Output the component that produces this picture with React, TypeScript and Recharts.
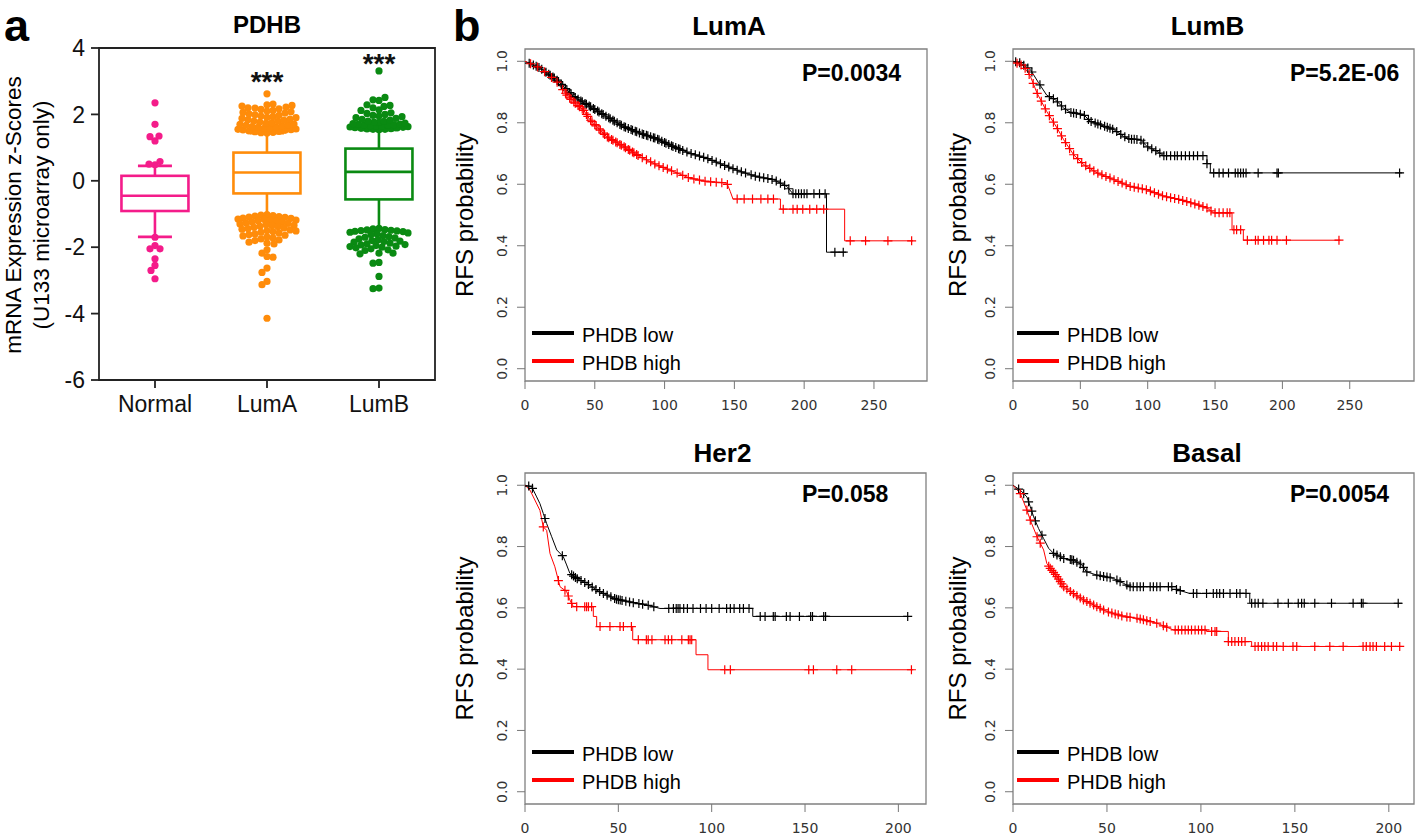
import React from 'react';
import { ComposedChart, Bar, Scatter, Line, XAxis, YAxis, ReferenceArea, Legend } from 'recharts';

const SANS = '"Liberation Sans", Arial, Helvetica, sans-serif';
const TICK_FONT = '"DejaVu Sans", "Liberation Sans", sans-serif';

// ---------------- Panel a: box plot data ----------------
const boxCategories = ['Normal', 'LumA', 'LumB'];
const boxColors = ['#f41c8a', '#ff8c0a', '#0a8a12'];
const whiskerLow = [-1.69, -1.08, -1.49];
const quartile1 = [-0.91, -0.38, -0.56];
const medians = [-0.45, 0.25, 0.27];
const quartile3 = [0.15, 0.85, 0.97];
const whiskerHigh = [0.45, 1.43, 1.53];
const boxYTicks = [-6, -4, -2, 0, 2, 4];

const normalOutliers = [2.35, 1.7, 1.33, 1.35, 1.2, 0.58, 0.5, 0.48, -1.7, -1.95, -2.05, -2.05, -2.35, -2.55, -2.7, -2.95];
const lumAOutliers = [
  2.62,
  2.31, 2.29, 2.27, 2.25,
  2.22, 2.2, 2.19, 2.17, 2.15,
  2.12, 2.1, 2.08, 2.06, 2.04, 2.02,
  1.99, 1.97, 1.95, 1.93, 1.91, 1.9,
  1.88, 1.86, 1.84, 1.82, 1.8, 1.79,
  1.77, 1.75, 1.73, 1.71, 1.7, 1.69,
  1.67, 1.65, 1.63, 1.62, 1.61, 1.6,
  1.58, 1.56, 1.55, 1.54, 1.53, 1.52,
  1.5, 1.49, 1.48, 1.46, 1.45, 1.44,
  -1.02, -1.03, -1.05, -1.06, -1.08, -1.09, -1.1,
  -1.12, -1.13, -1.15, -1.16, -1.18, -1.19, -1.2,
  -1.22, -1.24, -1.25, -1.27, -1.28, -1.3,
  -1.32, -1.34, -1.35, -1.37, -1.38, -1.4,
  -1.42, -1.44, -1.46, -1.48, -1.5, -1.51,
  -1.53, -1.55, -1.57, -1.6, -1.62,
  -1.64, -1.66, -1.69, -1.72,
  -1.75, -1.78, -1.8, -1.85, -1.88, -1.9,
  -2.08, -2.18, -2.28, -2.3, -2.63, -2.76, -3.03, -3.13, -4.14,
];
const lumBOutliers = [
  3.31, 2.51, 2.44, 2.42, 2.29, 2.27, 2.24, 2.2, 2.14, 2.12, 2.05, 2.03, 2.0, 1.97, 1.95, 1.93, 1.9, 1.88,
  1.85, 1.83, 1.8, 1.79, 1.77, 1.76, 1.74, 1.72, 1.71, 1.7, 1.69, 1.68, 1.67, 1.66, 1.65, 1.64, 1.63, 1.62, 1.61,
  1.6, 1.59, 1.58, 1.57, 1.56, 1.55, 1.55, 1.54,
  -1.43, -1.45, -1.47, -1.48, -1.49, -1.5, -1.51, -1.52, -1.53, -1.55, -1.57, -1.6, -1.62, -1.65, -1.68, -1.7,
  -1.72, -1.75, -1.78, -1.8, -1.82, -1.83, -1.85, -1.88, -1.9, -1.92, -1.93, -1.95, -1.97, -1.98, -2.0, -2.02,
  -2.05, -2.08, -2.1, -2.18, -2.18, -2.2, -2.46, -2.48, -2.88, -3.23, -3.25,
];
const significanceText = ['', '***', '***'];
const significanceY = [0, 3.2, 3.72];

// ---------------- Panel b: Kaplan-Meier data ----------------
const kmTitles = ['LumA', 'LumB', 'Her2', 'Basal'];
const kmPValues = ['P=0.0034', 'P=5.2E-06', 'P=0.058', 'P=0.0054'];
const legendLabels = ['PHDB low', 'PHDB high'];
const kmYTicks = [0, 0.2, 0.4, 0.6, 0.8, 1.0];
const xTicksTop = [0, 50, 100, 150, 200, 250];
const xTicksBottom = [0, 50, 100, 150, 200];

const lumALow = [[0, 1], [5, 0.99], [10.8, 0.978], [22.7, 0.94], [34.6, 0.886], [46.6, 0.853], [58.5, 0.82], [70.5, 0.788], [82.4, 0.766], [94.4, 0.748], [106, 0.723], [118, 0.701], [130, 0.685], [142, 0.663], [154, 0.642], [166, 0.625], [178, 0.615], [187.6, 0.593], [192, 0.569], [216, 0.569], [216, 0.379], [230, 0.379]];
const lumAHigh = [[0, 1], [5, 0.99], [10.8, 0.978], [22.7, 0.934], [30, 0.89], [34.6, 0.869], [41.8, 0.842], [46.6, 0.81], [58.5, 0.755], [70.5, 0.723], [82.4, 0.69], [94.4, 0.663], [106, 0.642], [118, 0.62], [130, 0.609], [144.6, 0.604], [147, 0.577], [149, 0.552], [183, 0.552], [183, 0.519], [229, 0.519], [229, 0.416], [278, 0.416]];
const lumALowCensor = [3, 6, 8, 10, 12, 15, 17, 18, 20, 21, 23, 24, 26, 27, 29, 30, 32, 33, 35, 36, 38, 40, 41, 43, 44, 46, 47, 49, 50, 52, 53, 55, 56, 58, 60, 61, 63, 64, 66, 68, 69, 71, 72, 74, 76, 77, 79, 80, 82, 84, 85, 87, 88, 90, 92, 93, 95, 96, 98, 100, 101, 103, 105, 106, 108, 110, 111, 113, 116, 119, 122, 125, 128, 131, 134, 137, 140, 143, 146, 149, 152, 155, 158, 162, 165, 168, 171, 174, 177, 180, 183, 186, 189, 192, 194, 196, 198, 200, 202, 207, 211, 215, 222, 228];
const lumAHighCensor = [4, 9, 14, 19, 23, 27, 29, 30, 32, 33, 35, 36, 38, 39, 41, 42, 44, 45, 47, 48, 50, 51, 53, 54, 56, 57, 59, 60, 62, 63, 65, 66, 68, 69, 71, 72, 74, 75, 77, 78, 80, 81, 84, 87, 90, 93, 96, 99, 102, 105, 109, 113, 117, 121, 125, 129, 133, 137, 141, 145, 152, 157, 163, 169, 174, 178, 185, 192, 195, 199, 204, 209, 214, 233, 244, 260, 277];

const lumBLow = [[0, 1], [5.4, 0.995], [12.9, 0.973], [19, 0.93], [25, 0.89], [31.4, 0.875], [37.6, 0.848], [42.6, 0.834], [52.5, 0.826], [57.4, 0.805], [67, 0.79], [74.8, 0.778], [82, 0.756], [87, 0.747], [94.6, 0.745], [99.5, 0.723], [107, 0.707], [112, 0.693], [144, 0.693], [144, 0.667], [146.5, 0.667], [146.5, 0.637], [289, 0.637]];
const lumBHigh = [[0, 1], [8, 0.984], [12.9, 0.951], [17.8, 0.897], [25, 0.837], [32.7, 0.783], [37.6, 0.745], [45, 0.696], [52.5, 0.664], [62.4, 0.637], [74.8, 0.615], [87, 0.593], [99.5, 0.582], [112, 0.561], [124, 0.55], [136.6, 0.534], [144, 0.523], [149, 0.507], [162.6, 0.507], [162.6, 0.452], [171, 0.452], [171, 0.418], [243, 0.418]];
const lumBLowCensor = [2, 5, 8, 11, 14, 20, 27, 30, 33, 36, 39, 43, 45, 47, 50, 53, 56, 58, 61, 63, 65, 68, 70, 72, 74, 77, 80, 83, 86, 88, 90, 92, 95, 97, 100, 103, 106, 109, 112, 114, 117, 120, 122, 125, 128, 131, 134, 137, 141, 144, 149, 153, 156, 160, 165, 167, 169, 171, 173, 182, 196, 197, 287];
const lumBHighCensor = [3, 6, 9, 12, 15, 18, 21, 24, 27, 30, 33, 36, 39, 42, 45, 48, 51, 54, 57, 60, 63, 66, 69, 72, 75, 78, 81, 84, 87, 90, 93, 96, 99, 102, 105, 108, 111, 114, 117, 120, 123, 126, 129, 132, 135, 138, 141, 144, 147, 150, 153, 156, 159, 161, 164, 166, 169, 174, 180, 182, 186, 190, 192, 196, 203, 242];

const her2Low = [[0, 1], [3.6, 0.995], [6.25, 0.962], [8, 0.94], [9.8, 0.908], [11.6, 0.875], [14.3, 0.832], [17, 0.789], [20.5, 0.767], [22.3, 0.74], [24, 0.713], [27.7, 0.696], [33, 0.68], [38.4, 0.658], [43.75, 0.642], [49, 0.628], [58, 0.617], [65, 0.61], [72.3, 0.598], [122, 0.598], [122, 0.572], [205, 0.572]];
const her2High = [[0, 1], [2.7, 0.984], [8, 0.918], [9.8, 0.864], [11.6, 0.853], [13.4, 0.777], [16, 0.734], [18.75, 0.669], [22.3, 0.653], [24, 0.626], [25.9, 0.604], [36.6, 0.604], [36.6, 0.572], [38.4, 0.572], [38.4, 0.539], [57.7, 0.539], [57.7, 0.496], [91.6, 0.496], [91.6, 0.447], [98, 0.447], [98, 0.398], [208, 0.398]];
const her2LowCensor = [2, 4, 10.7, 20, 25, 26, 27, 28, 30, 32, 34, 36, 38, 40, 42, 44, 46, 48, 49, 50, 51, 52, 54, 56, 58, 61, 63, 66, 69, 77, 79.5, 81, 82, 83, 85, 87, 90, 94, 97, 100, 104, 108, 110, 112, 115, 117, 120, 126, 128.6, 133, 134, 140, 142, 147, 153, 154, 160, 161, 205];
const her2HighCensor = [9.8, 17.9, 21.4, 23.2, 25, 27.7, 32, 33, 34, 35.7, 40.2, 45.5, 50.9, 52.7, 57, 60.7, 65, 66, 68, 75, 76.8, 78.6, 84, 87.5, 88.4, 89.3, 107, 110, 152, 154.5, 167, 175, 207];

const basalLow = [[0, 1], [3.9, 0.984], [7.4, 0.962], [9.2, 0.93], [11, 0.897], [13.6, 0.859], [16.3, 0.826], [19, 0.794], [21.6, 0.778], [27, 0.761], [32, 0.756], [36.7, 0.74], [39, 0.718], [44.6, 0.707], [53.5, 0.696], [58.8, 0.68], [62.3, 0.669], [87, 0.669], [87, 0.66], [94, 0.647], [126, 0.647], [126, 0.615], [207, 0.615]];
const basalHigh = [[0, 1], [3.9, 0.973], [7.4, 0.919], [9.2, 0.886], [12.8, 0.832], [16.3, 0.789], [18, 0.745], [19.8, 0.729], [23.4, 0.702], [27, 0.669], [32, 0.647], [37.5, 0.626], [44.6, 0.604], [50, 0.588], [58.8, 0.572], [66, 0.566], [76.5, 0.55], [85.4, 0.528], [103, 0.528], [103, 0.523], [114.6, 0.523], [114.6, 0.49], [127, 0.49], [127, 0.474], [207, 0.474]];
const basalLowCensor = [3, 5.7, 8.3, 10, 11.9, 15.4, 21.6, 23.4, 25.2, 27, 30.5, 31.3, 32.2, 34, 35.8, 37.5, 39.3, 44.6, 46.4, 48.2, 50, 51.7, 55.3, 57, 60.6, 62.3, 64, 66, 67.7, 69.4, 73, 74.7, 76.5, 78.3, 82.7, 84.5, 87, 89, 96, 97.8, 103, 106.6, 108.4, 110, 112, 115.5, 119, 120.8, 124, 127, 128.8, 130.5, 133, 141, 146.5, 151.8, 153.6, 155, 160.6, 169.5, 181, 185.4, 186.3, 205];
const basalHighCensor = [3.9, 7.4, 9.2, 12.8, 14.5, 19, 19.8, 20.7, 21.6, 22.5, 23.4, 24.3, 25.2, 26, 27, 28.7, 30.5, 32.2, 34, 35.8, 37.5, 39.3, 41, 42.9, 44.6, 46.4, 48.2, 50.8, 52.6, 54.4, 56, 57.9, 60.6, 62.3, 66, 67.7, 69.4, 71.2, 73, 76.5, 80, 81.8, 86.3, 88, 89.8, 91.6, 93.3, 95, 96.9, 98.7, 100.4, 102.2, 105.7, 107.5, 108.4, 114.6, 116.4, 118.1, 120, 121.7, 123.5, 128.8, 130.5, 132.3, 134, 135.8, 138.5, 140.3, 143.8, 149, 151, 160.6, 168.6, 175.7, 186.3, 188, 190, 191.6, 193.4, 197.8, 201.4, 205.8];

// ---------------- helpers ----------------
function swarm(values: number[], groupIndex: number, median: number) {
  const PX_Y = 33.2, PX_X = 112, D = 6, MAXHALF = 29;
  const order = values.map((_, i) => i).sort((a, b) => Math.abs(values[a] - median) - Math.abs(values[b] - median));
  const placed: { x: number; y: number }[] = [];
  const res: { x: number; y: number }[] = [];
  for (const i of order) {
    const py = values[i] * PX_Y;
    let best = 0;
    let bestD = -1;
    for (let k = 0; k <= 2 * MAXHALF; k++) {
      const c = k % 2 === 1 ? -Math.ceil(k / 2) : k / 2;
      let minD = Infinity;
      for (const p of placed) {
        const dy = p.y - py;
        if (Math.abs(dy) < D) {
          const d = Math.hypot(p.x - c, dy);
          if (d < minD) minD = d;
        }
      }
      if (minD >= D) { best = c; break; }
      if (minD > bestD) { bestD = minD; best = c; }
    }
    placed.push({ x: best, y: py });
    res.push({ x: groupIndex + best / PX_X, y: values[i] });
  }
  return res;
}

function survivalAt(curve: number[][], t: number) {
  let s = curve[0][1];
  for (let i = 0; i < curve.length; i++) {
    const [ti, si] = curve[i];
    if (ti <= t) { s = si; continue; }
    const [tp, sp] = curve[i - 1];
    if (ti === tp) return sp;
    return sp + ((t - tp) / (ti - tp)) * (si - sp);
  }
  return s;
}

const toPoints = (curve: number[][]) => curve.map(([t, s]) => ({ t, s }));
const toCensor = (curve: number[][], times: number[]) => times.map((t) => ({ t, s: survivalAt(curve, t) }));

// ---------------- shapes ----------------
const BOX_W = 67;
const CAP_HALF = 17;
const BoxShape = (props: any) => {
  const { x, y, width, height, payload } = props;
  const top = Math.min(y, y + height);
  const bot = Math.max(y, y + height);
  const { wl, wh, q1, q3, med, color } = payload;
  const ppu = (bot - top) / (wh - wl);
  const py = (v: number) => top + (wh - v) * ppu;
  const cx = x + (width || 0) / 2;
  const left = cx - BOX_W / 2;
  return (
    <g stroke={color} strokeWidth={2.6} fill="none">
      <line x1={cx} x2={cx} y1={py(wh)} y2={py(q3)} />
      <line x1={cx} x2={cx} y1={py(q1)} y2={py(wl)} />
      <line x1={cx - CAP_HALF} x2={cx + CAP_HALF} y1={py(wh)} y2={py(wh)} />
      <line x1={cx - CAP_HALF} x2={cx + CAP_HALF} y1={py(wl)} y2={py(wl)} />
      <rect x={left} y={py(q3)} width={BOX_W} height={py(q1) - py(q3)} fill="#fff" />
      <line x1={left} x2={left + BOX_W} y1={py(med)} y2={py(med)} />
    </g>
  );
};

const makeDot = (color: string) => (p: any) => <circle cx={p.cx} cy={p.cy} r={3.6} fill={color} />;
const makePlus = (color: string) => (p: any) => (
  <path d={`M${p.cx - 4.5},${p.cy}h9M${p.cx},${p.cy - 4.5}v9`} stroke={color} strokeWidth={1.2} fill="none" />
);
const SigShape = (p: any) =>
  p.payload.label ? (
    <text x={p.cx} y={p.cy + 16} textAnchor="middle" fontSize={28} fontWeight="bold" fontFamily={SANS} fill="#111">
      {p.payload.label}
    </text>
  ) : null;

const RotTick = (props: any) => {
  const { x, y, payload } = props;
  return (
    <text x={x} y={y} transform={`rotate(-90, ${x}, ${y})`} textAnchor="middle" dy="0.35em" fontSize={14} fill="#333" fontFamily={TICK_FONT}>
      {Number(payload.value).toFixed(1)}
    </text>
  );
};

// ---------------- Panel a chart ----------------
function BoxPanel() {
  const boxData = boxCategories.map((c, i) => ({
    x: i + 1,
    range: [whiskerLow[i], whiskerHigh[i]],
    wl: whiskerLow[i],
    wh: whiskerHigh[i],
    q1: quartile1[i],
    q3: quartile3[i],
    med: medians[i],
    color: boxColors[i],
  }));
  const outlierSets = [normalOutliers, lumAOutliers, lumBOutliers].map((vals, i) => swarm(vals, i + 1, medians[i]));
  const sigData = boxCategories.map((_, i) => ({ x: i + 1, y: significanceY[i], label: significanceText[i] }));
  return (
    <div style={{ position: 'absolute', left: 0, top: 0 }}>
      <ComposedChart width={450} height={440} data={boxData} margin={{ top: 48, right: 15, left: 54, bottom: 20 }}>
        <XAxis
          type="number"
          dataKey="x"
          domain={[0.5, 3.5]}
          ticks={[1, 2, 3]}
          tickFormatter={(v: number) => boxCategories[v - 1]}
          height={40}
          axisLine={false}
          tickSize={8}
          tickMargin={8}
          tickLine={{ stroke: '#222', strokeWidth: 1.8 }}
          tick={{ fontSize: 23, fill: '#111', fontFamily: SANS }}
          allowDataOverflow
        />
        <YAxis
          type="number"
          domain={[-6, 4]}
          ticks={boxYTicks}
          width={45}
          axisLine={false}
          tickSize={8}
          tickMargin={6}
          tickLine={{ stroke: '#222', strokeWidth: 1.8 }}
          tick={{ fontSize: 23, fill: '#111', fontFamily: SANS }}
          allowDataOverflow
        />
        <ReferenceArea x1={0.5} x2={3.5} y1={-6} y2={4} fill="transparent" stroke="#222" strokeWidth={1.8} />
        <Bar dataKey="range" barSize={67} shape={BoxShape} isAnimationActive={false} />
        {outlierSets.map((pts, i) => (
          <Scatter key={i} data={pts} dataKey="y" shape={makeDot(boxColors[i])} isAnimationActive={false} />
        ))}
        <Scatter data={sigData} dataKey="y" shape={SigShape} isAnimationActive={false} />
      </ComposedChart>
    </div>
  );
}

// ---------------- Panel b charts ----------------
type KMProps = {
  frameLeft: number; frameTop: number; frameW: number; frameH: number; xMax: number; xTicks: number[];
  low: number[][]; high: number[][]; lowCensor: number[]; highCensor: number[]; legendY: number; legendDx: number;
};

function KMPanel(p: KMProps) {
  const W = p.frameW + 90;
  const H = p.frameH + 65;
  const chartTop = p.frameTop - 10;
  const legendContent = () => (
    <div style={{ fontFamily: SANS, fontSize: 20, color: '#000', lineHeight: '28px' }}>
      {legendLabels.map((lab, i) => (
        <div key={lab} style={{ display: 'flex', alignItems: 'center', height: 28, whiteSpace: 'nowrap' }}>
          <div style={{ width: 42, height: 4, background: i === 0 ? '#000' : '#ff0000', marginRight: 8, position: 'relative', top: -2 }} />
          <span>{lab}</span>
        </div>
      ))}
    </div>
  );
  return (
    <div style={{ position: 'absolute', left: p.frameLeft - 85, top: chartTop }}>
      <ComposedChart width={W} height={H} margin={{ top: 10, right: 5, left: 45, bottom: 25 }}>
        <XAxis
          type="number"
          dataKey="t"
          domain={[0, p.xMax]}
          ticks={p.xTicks}
          height={30}
          axisLine={false}
          tickSize={8}
          tickMargin={11}
          tickLine={{ stroke: '#777' }}
          tick={{ fontSize: 14, fill: '#333', fontFamily: TICK_FONT }}
          allowDataOverflow
        />
        <YAxis
          type="number"
          domain={[-0.04, 1.04]}
          ticks={kmYTicks}
          width={40}
          axisLine={false}
          tickSize={8}
          tickMargin={15}
          tickLine={{ stroke: '#777' }}
          tick={RotTick}
          allowDataOverflow
        />
        <ReferenceArea x1={0} x2={p.xMax} y1={-0.04} y2={1.04} fill="transparent" stroke="#808080" strokeWidth={1.3} />
        <Line data={toPoints(p.low)} dataKey="s" type="linear" stroke="#000" strokeWidth={1} dot={false} isAnimationActive={false} />
        <Line data={toPoints(p.high)} dataKey="s" type="linear" stroke="#ff0000" strokeWidth={1} dot={false} isAnimationActive={false} />
        <Scatter data={toCensor(p.low, p.lowCensor)} dataKey="s" shape={makePlus('#000')} isAnimationActive={false} />
        <Scatter data={toCensor(p.high, p.highCensor)} dataKey="s" shape={makePlus('#ff0000')} isAnimationActive={false} />
        <Legend
          layout="vertical"
          align="center"
          verticalAlign="middle"
          wrapperStyle={{ left: 85 + p.legendDx, top: p.legendY - 14 - chartTop, width: 'auto', height: 'auto' }}
          content={legendContent}
        />
      </ComposedChart>
    </div>
  );
}

const kmPanels: KMProps[] = [
  { frameLeft: 525, frameTop: 49, frameW: 402, frameH: 332, xMax: 288, xTicks: xTicksTop, low: lumALow, high: lumAHigh, lowCensor: lumALowCensor, highCensor: lumAHighCensor, legendY: 335, legendDx: 7 },
  { frameLeft: 1013, frameTop: 49, frameW: 401, frameH: 332, xMax: 297.7, xTicks: xTicksTop, low: lumBLow, high: lumBHigh, lowCensor: lumBLowCensor, highCensor: lumBHighCensor, legendY: 335, legendDx: 4 },
  { frameLeft: 525, frameTop: 473, frameW: 401, frameH: 331, xMax: 214.8, xTicks: xTicksBottom, low: her2Low, high: her2High, lowCensor: her2LowCensor, highCensor: her2HighCensor, legendY: 754, legendDx: 7 },
  { frameLeft: 1013, frameTop: 473, frameW: 401, frameH: 331, xMax: 213.4, xTicks: xTicksBottom, low: basalLow, high: basalHigh, lowCensor: basalLowCensor, highCensor: basalHighCensor, legendY: 754, legendDx: 4 },
];
const titleX = [729, 1207.5, 722.5, 1207];
const titleBaseline = [35, 35, 461.5, 461.5];
const pValueBaseline = [80.5, 80.5, 502, 502];
const yLabelDx = [-60, -55, -60, -55];

export default function App() {
  return (
    <div style={{ position: 'absolute', left: 0, top: 0, width: 1418, height: 835, background: '#fff', overflow: 'hidden' }}>
      <BoxPanel />
      {kmPanels.map((p, i) => (
        <KMPanel key={i} {...p} />
      ))}
      <svg width={1418} height={835} style={{ position: 'absolute', left: 0, top: 0, pointerEvents: 'none' }}>
        <g fontFamily={SANS} fill="#000">
          <text x={4} y={41} fontSize={45} fontWeight="bold">a</text>
          <text x={453} y={41} fontSize={45} fontWeight="bold">b</text>
          <text x={267} y={33} fontSize={24} fontWeight="bold" textAnchor="middle">PDHB</text>
          <text x={13.5} y={215} fontSize={22.5} textAnchor="middle" dy="0.35em" transform="rotate(-90, 13.5, 215)">
            mRNA Expression z-Scores
          </text>
          <text x={41} y={215} fontSize={22.5} textAnchor="middle" dy="0.35em" transform="rotate(-90, 41, 215)">
            (U133 microarray only)
          </text>
          {kmPanels.map((p, i) => {
            const lx = p.frameLeft + yLabelDx[i];
            const ly = p.frameTop + p.frameH / 2;
            return (
              <g key={i}>
                <text x={titleX[i]} y={titleBaseline[i]} fontSize={26} fontWeight="bold" textAnchor="middle">{kmTitles[i]}</text>
                <text x={p.frameLeft + 277} y={pValueBaseline[i]} fontSize={23} fontWeight="bold">{kmPValues[i]}</text>
                <text x={lx} y={ly} fontSize={24} textAnchor="middle" dy="0.35em" transform={`rotate(-90, ${lx}, ${ly})`}>
                  RFS probability
                </text>
              </g>
            );
          })}
        </g>
      </svg>
    </div>
  );
}
